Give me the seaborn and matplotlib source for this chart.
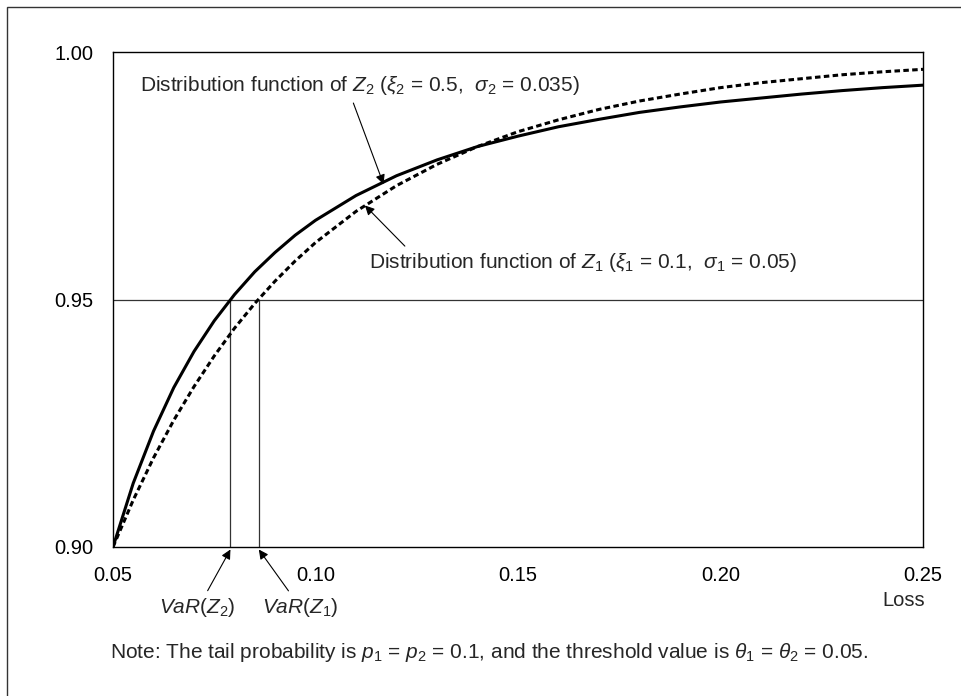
import matplotlib
matplotlib.use("Agg")
import matplotlib.pyplot as plt
import seaborn as sns
import pandas as pd
from matplotlib.patches import Rectangle

# values
loss = [0.050, 0.055, 0.060, 0.065, 0.070, 0.075, 0.080, 0.085, 0.090, 0.095,
        0.100, 0.110, 0.120, 0.130, 0.140, 0.150, 0.160, 0.170, 0.180, 0.190,
        0.200, 0.210, 0.220, 0.230, 0.240, 0.250]
cdf_z2 = [0.9000, 0.9129, 0.9234, 0.9322, 0.9395, 0.9457, 0.9510, 0.9556, 0.9595, 0.9630,
          0.9660, 0.9710, 0.9750, 0.9782, 0.9809, 0.9830, 0.9849, 0.9864, 0.9878, 0.9889,
          0.9899, 0.9907, 0.9915, 0.9922, 0.9928, 0.9933]
cdf_z1 = [0.9000, 0.9095, 0.9180, 0.9256, 0.9324, 0.9386, 0.9442, 0.9492, 0.9537, 0.9578,
          0.9615, 0.9678, 0.9730, 0.9773, 0.9809, 0.9839, 0.9863, 0.9884, 0.9901, 0.9915,
          0.9928, 0.9938, 0.9946, 0.9954, 0.9960, 0.9965]
conf_level = 0.95
var_z2 = 0.079
var_z1 = 0.086
x_ticks = [0.05, 0.10, 0.15, 0.20, 0.25]
y_ticks = [0.90, 0.95, 1.00]

df = pd.DataFrame({"loss": loss, "z1": cdf_z1, "z2": cdf_z2})

sns.set_theme(style="white")
plt.rcParams["font.family"] = ["Liberation Sans", "DejaVu Sans"]
plt.rcParams["mathtext.fontset"] = "custom"
plt.rcParams["mathtext.rm"] = "Liberation Sans"
plt.rcParams["mathtext.it"] = "Liberation Sans:italic"

fig = plt.figure(figsize=(9.62, 6.96), dpi=100)
ax = fig.add_axes([113 / 962, 1 - 547 / 696, 810 / 962, 495 / 696])

# confidence level line and VaR drop lines
ax.axhline(conf_level, color="#333333", lw=0.9, zorder=1)
ax.vlines([var_z2, var_z1], 0.90, conf_level, color="#333333", lw=0.9, zorder=1)

sns.lineplot(data=df, x="loss", y="z2", ax=ax, color="black", lw=2.2, zorder=3)
sns.lineplot(data=df, x="loss", y="z1", ax=ax, color="black", lw=2.2,
             linestyle=(0, (1.8, 1.1)), zorder=3)

ax.set_xlim(0.05, 0.25)
ax.set_ylim(0.90, 1.00)
ax.set_xticks(x_ticks)
ax.set_yticks(y_ticks)
ax.set_xticklabels([f"{v:.2f}" for v in x_ticks])
ax.set_yticklabels([f"{v:.2f}" for v in y_ticks])
ax.tick_params(axis="x", direction="in", length=4, width=0.9, color="black",
               pad=14, labelsize=14.5, labelcolor="black")
ax.tick_params(axis="y", length=0, pad=14, labelsize=14.5, labelcolor="black")
ax.set_xlabel("")
ax.set_ylabel("")
for s in ax.spines.values():
    s.set_color("black")
    s.set_linewidth(1.0)

ax.text(0.2505, 0.8911, "Loss", ha="right", va="top", fontsize=14.5)

arrow = dict(arrowstyle="-|>", color="black", lw=0.8, mutation_scale=14,
             shrinkA=2, shrinkB=0)

ax.annotate(r"Distribution function of $Z_2$ ($\xi_2$ = 0.5,  $\sigma_2$ = 0.035)",
            xy=(0.1168, 0.9733), xytext=(0.0567, 0.9932),
            ha="left", va="center", fontsize=15,
            arrowprops=dict(arrow, relpos=(0.48, 0)))
ax.annotate(r"Distribution function of $Z_1$ ($\xi_1$ = 0.1,  $\sigma_1$ = 0.05)",
            xy=(0.1122, 0.9690), xytext=(0.1133, 0.9574),
            ha="left", va="center", fontsize=15,
            arrowprops=dict(arrow, relpos=(0.095, 1)))

ax.annotate(r"$VaR(Z_2)$", xy=(var_z2, 0.8995), xytext=(0.0707, 0.8877),
            ha="center", va="center", fontsize=15, annotation_clip=False,
            arrowprops=dict(arrow, relpos=(0.6, 1)))
ax.annotate(r"$VaR(Z_1)$", xy=(var_z1, 0.8995), xytext=(0.0962, 0.8877),
            ha="center", va="center", fontsize=15, annotation_clip=False,
            arrowprops=dict(arrow, relpos=(0.4, 1)))

fig.text(110 / 962, 1 - 652 / 696,
         r"Note: The tail probability is $p_1$ = $p_2$ = 0.1, and the threshold value is $\theta_1$ = $\theta_2$ = 0.05.",
         ha="left", va="center", fontsize=15)

# outer frame
fig.patches.append(Rectangle((7 / 962, -0.05), 1.1, 1.05 - 7 / 696,
                             transform=fig.transFigure, fill=False,
                             edgecolor="#333333", lw=1.0))

fig.savefig("out.png", dpi=100)
